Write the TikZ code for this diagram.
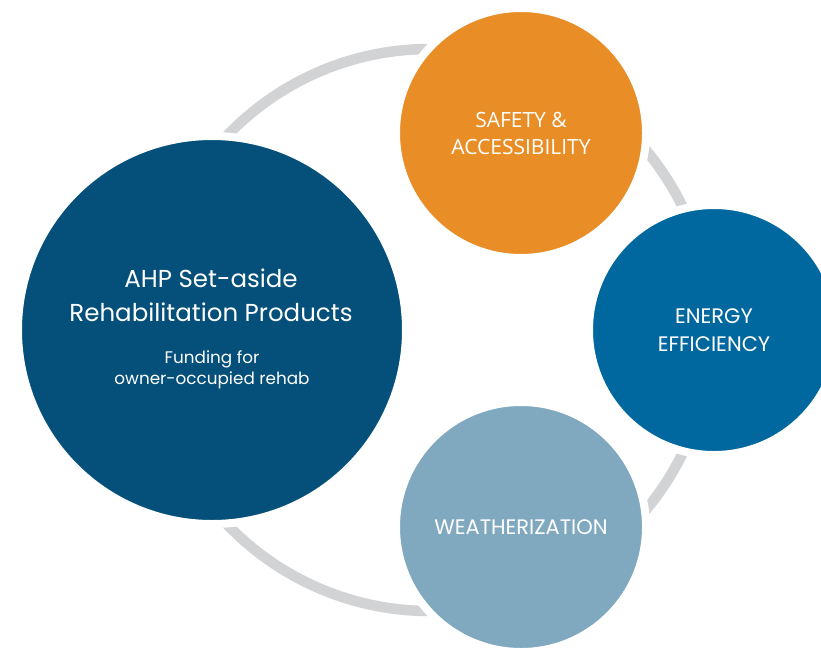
\documentclass[tikz,border=0pt]{standalone}
\usepackage{fontspec}
\setmainfont{Poppins}
\newfontfamily\capsfont{Open Sans}
\usetikzlibrary{positioning}
\definecolor{AHPNavy}{HTML}{04507A}
\definecolor{COrange}{HTML}{E98E26}
\definecolor{CBlue}{HTML}{01679F}
\definecolor{CSteel}{HTML}{80A9BF}
\definecolor{CRing}{HTML}{D2D3D5}

\begin{document}
\begin{tikzpicture}[x=1pt, y=-1pt,
  disc/.style={circle, draw=white, line width=8pt, inner sep=0pt,
    text=white, align=center},
  small disc/.style={disc, minimum size=250pt},
  ringline/.style={CRing, line width=10.5pt}]
  % --- GEOMETRIC VARIABLES ---
  \def\RingX{430}
  \def\RingY{330}
  \def\RingRadius{281}

  \useasboundingbox (0,0) rectangle (821,648);

  % =====================================================================
  % 1. RING (Background Layer)
  % =====================================================================
  \draw[ringline] (\RingX,\RingY) circle[radius=\RingRadius];

  % =====================================================================
  % 2. MAIN CIRCLE
  % =====================================================================
  \node[disc, fill=AHPNavy, minimum size=388pt] (ahp) at (212,330) {};
  % Title and subtitle (base = last line)
  \node[text=white, align=center, anchor=base,
    font=\fontsize{24.5}{34}\selectfont] (title) at (211,321)
    {AHP Set-aside\\Rehabilitation Products};
  \node[text=white, align=center, anchor=base,
    font=\fontsize{16.8}{21}\selectfont] (sub) at (212,384)
    {Funding for\\owner-occupied rehab};

  % =====================================================================
  % 3. PRODUCT CIRCLES
  % =====================================================================
  \node[small disc, fill=COrange, font=\capsfont\fontsize{21}{27}\selectfont]
    (safety) at (521,133) {SAFETY \&\\ACCESSIBILITY};
  \node[small disc, fill=CBlue, font=\fontsize{21}{28}\selectfont]
    (energy) at (714,330) {ENERGY\\EFFICIENCY};
  \node[small disc, fill=CSteel, font=\fontsize{21}{28}\selectfont]
    (weather) at (521,527) {WEATHERIZATION};

\end{tikzpicture}
\end{document}
